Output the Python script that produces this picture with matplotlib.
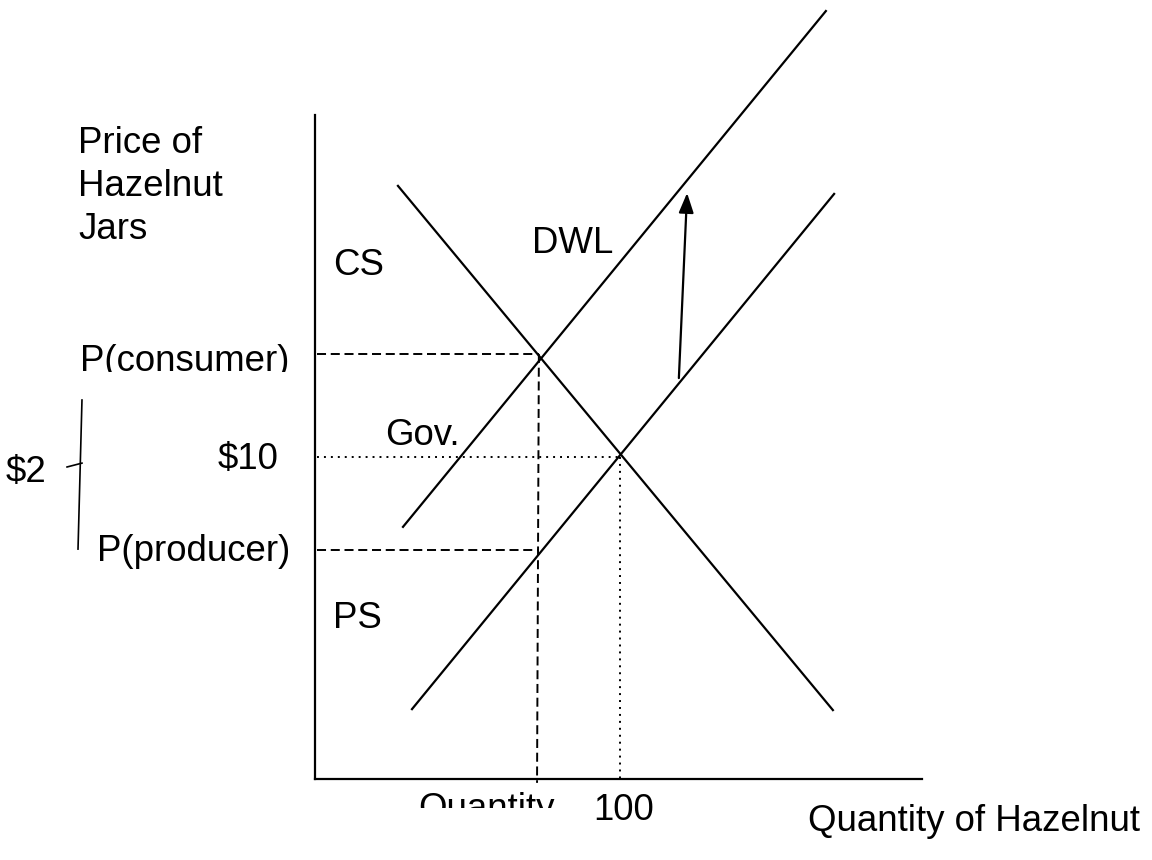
import matplotlib
matplotlib.use("Agg")
import matplotlib.pyplot as plt
from matplotlib.transforms import Bbox

plt.rcParams['font.family'] = ['Liberation Sans', 'DejaVu Sans']
plt.rcParams['lines.scale_dashes'] = False

# market data (quantity, price)
demand_q = [27.2, 169.8]
demand_p = [18.42, 2.14]
supply_q = [31.8, 170.2]
supply_p = [2.17, 18.17]
supply_tax_q = [28.85, 167.5]
supply_tax_p = [7.83, 23.85]

q_eq, p_eq = 100, 10
q_tax = 73.4
p_consumer = 13.2
p_producer = 7.11

axis_top = 20.62
axis_right = 199

shift_q = [119.3, 122.0]
shift_p = [12.45, 18.2]

bracket_q = [-76.4, -77.7]
bracket_p = [11.77, 7.14]
tick_q = [-81.3, -76.4]
tick_p = [9.69, 9.81]

W, H = 1152, 860
fig = plt.figure(figsize=(W / 100, H / 100), dpi=100)
ax = fig.add_axes([0, 0, 1, 1])
ax.set_xlim(-315 / 3.05, (W - 315) / 3.05)
ax.set_ylim((779 - H) / 32.2, 779 / 32.2)
ax.axis('off')

lw = 1.6
# axes of the diagram
ax.plot([0, 0], [0, axis_top], color='k', lw=lw)
ax.plot([0, axis_right], [0, 0], color='k', lw=lw)

# curves
ax.plot(demand_q, demand_p, color='k', lw=lw)
ax.plot(supply_q, supply_p, color='k', lw=lw)
ax.plot(supply_tax_q, supply_tax_p, color='k', lw=lw)

# guide lines
dash = (6.5, 3.4)
dot = (1.4, 3.6)
ax.plot([0.5, q_tax], [p_consumer, p_consumer], color='k', lw=1.4, dashes=dash)
ax.plot([0.5, q_tax], [p_producer, p_producer], color='k', lw=1.4, dashes=dash)
ax.plot([q_tax, q_tax - 0.6], [p_consumer, -0.12], color='k', lw=1.4, dashes=dash)
ax.plot([0.5, q_eq], [p_eq, p_eq], color='k', lw=1.4, dashes=dot)
ax.plot([q_eq, q_eq], [p_eq, 0], color='k', lw=1.4, dashes=dot)

# shift arrow
ax.annotate('', xy=(shift_q[1], shift_p[1]), xytext=(shift_q[0], shift_p[0]),
            arrowprops=dict(arrowstyle='-|>,head_length=1.2,head_width=0.45',
                            color='k', lw=1.6, shrinkA=0, shrinkB=0))

# $2 bracket
ax.plot(bracket_q, bracket_p, color='k', lw=1.2)
ax.plot(tick_q, tick_p, color='k', lw=1.2)


def label(s, x, y, clip=None):
    t = fig.text(x / W, 1 - y / H, s, fontsize=26.4, va='baseline', ha='left')
    if clip is not None:
        t.set_clip_box(Bbox([[0, H - clip], [W, H]]))
        t.set_clip_on(True)
    return t


label("Price of", 78, 153)
label("Hazelnut", 78, 196)
label("Jars", 78, 239)
label("CS", 333, 275)
label("DWL", 532, 253)
label("P(consumer)", 80, 371, clip=372)
label("Gov.", 385, 445)
label("$10", 218, 469)
label("$2", 6, 482)
label("P(producer)", 97, 561)
label("PS", 333, 628)
label("Quantity", 418, 819, clip=808)
label("100", 593, 820)
label("Quantity of Hazelnut", 808, 831)

fig.savefig("out.png", dpi=100)
